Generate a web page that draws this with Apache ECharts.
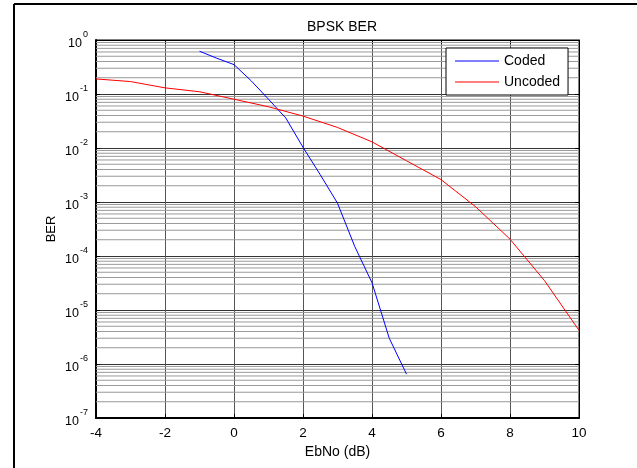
<!DOCTYPE html>
<html>
<head>
<meta charset="utf-8">
<script src="https://cdn.jsdelivr.net/npm/echarts@6/dist/echarts.min.js"></script>
<style>
html,body{margin:0;padding:0;background:#fff;}
#chart{width:637px;height:468px;}
</style>
</head>
<body>
<div id="chart"></div>
<script>
// ---- data ----
var codedX = [-1, -0.5, 0, 0.5, 1, 1.5, 2, 2.5, 3, 3.5, 4, 4.5, 5];
var codedBER = [0.62, 0.46, 0.35, 0.175, 0.08, 0.036, 0.0103, 0.0032, 0.00095, 0.00015, 0.000032, 0.000003, 0.00000065];
var uncodedX = [-4, -3, -2, -1, 0, 1, 2, 3, 4, 5, 6, 7, 8, 9, 10];
var uncodedBER = [0.19, 0.17, 0.13, 0.11, 0.08, 0.058, 0.039, 0.024, 0.013, 0.0058, 0.0026, 0.00082, 0.000205, 0.000035, 0.0000042];
var xRange = [-4, 10];
var decades = [-7, -6, -5, -4, -3, -2, -1];
var minorMult = [2, 3, 4, 5, 6, 7, 8, 9];

function pairs(xs, ys) { return xs.map(function (x, i) { return [x, ys[i]]; }); }

var font = 'Liberation Sans, Arial, sans-serif';
var minorSeries = [];
decades.forEach(function (d) {
  minorMult.forEach(function (m) {
    var v = m * Math.pow(10, d);
    minorSeries.push({
      name: 'minor', type: 'line', data: [[xRange[0], v], [xRange[1], v]],
      symbol: 'none', showSymbol: false, silent: true, z: 1,
      lineStyle: { color: '#9a9a9a', width: 1 }
    });
  });
});

var chart = echarts.init(document.getElementById('chart'));
chart.setOption({
  animation: false,
  backgroundColor: '#fff',
  textStyle: { fontFamily: font },
  title: {
    text: 'BPSK BER', left: 337, top: 15, textAlign: 'center',
    textStyle: { fontSize: 14, fontWeight: 'normal', color: '#000', fontFamily: font }
  },
  graphic: [
    { type: 'line', shape: { x1: 14, y1: 4, x2: 637, y2: 4 }, style: { stroke: '#000', lineWidth: 2 } },
    { type: 'line', shape: { x1: 14, y1: 4, x2: 14, y2: 468 }, style: { stroke: '#000', lineWidth: 2 } }
  ],
  legend: {
    data: ['Coded', 'Uncoded'],
    orient: 'vertical',
    left: 446, top: 48,
    padding: [6, 8, 6, 9],
    itemWidth: 44, itemHeight: 1, itemGap: 7,
    icon: 'rect',
    backgroundColor: '#fff', borderColor: '#000', borderWidth: 1,
    textStyle: { fontSize: 14, color: '#000', fontFamily: font }
  },
  grid: { left: 96, right: 58, top: 40, bottom: 50, show: true, borderColor: '#000', borderWidth: 1, backgroundColor: '#fff' },
  xAxis: [{
    type: 'value', min: -4, max: 10, interval: 2,
    name: 'EbNo (dB)', nameLocation: 'middle', nameGap: 27, nameMoveOverlap: false,
    nameTextStyle: { fontSize: 14, color: '#000', fontFamily: font, verticalAlign: 'top' },
    axisLine: { show: true, onZero: false, lineStyle: { color: '#000', width: 2 } },
    axisTick: { show: true, inside: true, length: 4, lineStyle: { color: '#000' } },
    axisLabel: { fontSize: 13.5, color: '#000', margin: 8, fontFamily: font },
    splitLine: { show: true, lineStyle: { color: '#555', width: 1 } }
  }, {
    type: 'value', min: -4, max: 10, interval: 2, position: 'top',
    axisLine: { show: true, onZero: false, lineStyle: { color: '#000', width: 1 } },
    axisTick: { show: true, inside: true, length: 4, lineStyle: { color: '#000' } },
    axisLabel: { show: false }, splitLine: { show: false }
  }],
  yAxis: [{
    type: 'log', logBase: 10, min: 1e-7, max: 1, interval: 1,
    name: 'BER', nameLocation: 'middle', nameGap: 45, nameRotate: 90, nameMoveOverlap: false,
    nameTextStyle: { fontSize: 13, color: '#000', fontFamily: font, verticalAlign: 'middle' },
    axisLine: { show: true, onZero: false, lineStyle: { color: '#000', width: 2 } },
    axisTick: { show: true, inside: true, length: 4, lineStyle: { color: '#000' } },
    axisLabel: {
      margin: 8, color: '#000',
      formatter: function (v) { var e = Math.round(Math.log10(v)); return '{b|10}{e|' + e + '}'; },
      rich: {
        b: { fontSize: 12.5, fontFamily: font, color: '#000', lineHeight: 20, verticalAlign: 'bottom' },
        e: { fontSize: 9, fontFamily: font, color: '#000', lineHeight: 20, verticalAlign: 'top', padding: [0, 0, 0, 1] }
      }
    },
    splitLine: { show: true, lineStyle: { color: '#333', width: 1 } }
  }, {
    type: 'log', logBase: 10, min: 1e-7, max: 1, interval: 1, position: 'right',
    axisLine: { show: true, onZero: false, lineStyle: { color: '#000', width: 1 } },
    axisTick: { show: true, inside: true, length: 4, lineStyle: { color: '#000' } },
    axisLabel: { show: false }, splitLine: { show: false }
  }],
  series: minorSeries.concat([{
    name: 'Coded', type: 'line', data: pairs(codedX, codedBER), showSymbol: false, symbol: 'none', z: 5,
    lineStyle: { color: '#0000ff', width: 1 }, itemStyle: { color: '#0000ff' }
  }, {
    name: 'Uncoded', type: 'line', data: pairs(uncodedX, uncodedBER), showSymbol: false, symbol: 'none', z: 5,
    lineStyle: { color: '#ff0000', width: 1 }, itemStyle: { color: '#ff0000' }
  }])
});
</script>
</body>
</html>
